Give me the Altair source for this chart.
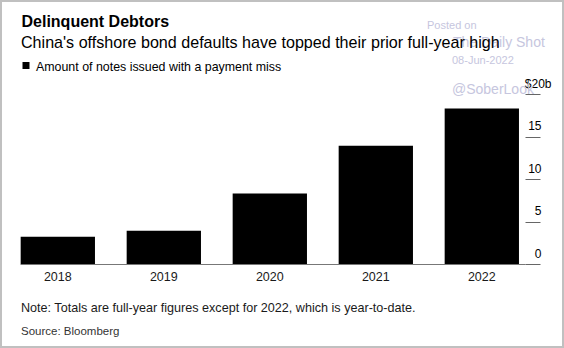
import altair as alt
import pandas as pd

years = ["2018", "2019", "2020", "2021", "2022"]
amounts = [3.2, 3.9, 8.3, 13.9, 18.3]
y_ticks = [0, 5, 10, 15, 20]
series_name = "Amount of notes issued with a payment miss"
title_text = "Delinquent Debtors"
subtitle_text = "China's offshore bond defaults have topped their prior full-year high"
note_text = "Note: Totals are full-year figures except for 2022, which is year-to-date."
source_text = "Source: Bloomberg"
wm_posted = "Posted on"
wm_name = "The Daily Shot"
wm_date = "08-Jun-2022"
wm_handle = "@SoberLook"

FONT = "Liberation Sans"

df = pd.DataFrame({"year": years, "amount": amounts})

bars = alt.Chart(df).mark_bar(color="#000000").encode(
    x=alt.X(
        "year:N",
        scale=alt.Scale(paddingInner=0.299, paddingOuter=0.0316, align=0.1),
        axis=alt.Axis(
            title=None, labelAngle=0, ticks=False, tickSize=0, labelPadding=6,
            labelFontSize=12.5, labelColor="#1a1a1a", labelFont=FONT,
            domainColor="#777777", domainWidth=1,
        ),
    ),
    y=alt.Y(
        "amount:Q",
        scale=alt.Scale(domain=[0, 20], nice=False, zero=True),
        axis=alt.Axis(
            title=None, orient="right", values=y_ticks, grid=False, domain=False,
            tickSize=15, tickColor="#666666", tickWidth=1,
            labelAlign="right", labelBaseline="alphabetic", labelOffset=-7,
            labelPadding={"condition": {"test": "datum.value == 20", "value": 11}, "value": 1},
            labelExpr="datum.value == 20 ? '$20b' : datum.label",
            labelFontSize=12, labelColor="#000000", labelFont=FONT,
        ),
    ),
)


def txt(text, x, y, size, color="#000000", weight="normal", baseline="alphabetic"):
    return alt.Chart(pd.DataFrame({"t": [text]})).mark_text(
        align="left", baseline=baseline, fontSize=size, fontWeight=weight,
        color=color, font=FONT,
    ).encode(x=alt.value(x), y=alt.value(y), text="t:N")


WM = "#c6c6de"
watermark = [
    txt(wm_posted, 407, -68, 11, WM, baseline="middle"),
    txt(wm_name, 433, -51.3, 14, WM, baseline="middle"),
    txt(wm_date, 432, -33.3, 11, WM, baseline="middle"),
    txt(wm_handle, 432, -4, 14, WM, baseline="middle"),
]

title = txt(title_text, 1.5, -67.3, 16, "#000000", weight="bold")
subtitle = txt(subtitle_text, 1, -45.7, 16.1, "#000000")
legend_label = txt(series_name, 16, -23.3, 12.4, "#000000")
legend_sq = alt.Chart(pd.DataFrame({"t": [series_name]})).mark_square(
    size=49, color="#000000", opacity=1
).encode(x=alt.value(6), y=alt.value(-28.5))
note = txt(note_text, 1, 218.3, 12.6, "#1a1a1a")
source = txt(source_text, 1, 241, 11.5, "#333333")

border = alt.Chart(pd.DataFrame({"a": [0]})).mark_rect(
    fillOpacity=0, stroke="#c0c0c0", strokeWidth=2
).encode(x=alt.value(-19), x2=alt.value(543), y=alt.value(-93), y2=alt.value(253))

chart = alt.layer(
    *watermark, bars, title, subtitle, legend_sq, legend_label, note, source, border
).properties(
    width=505,
    height=170,
    autosize=alt.AutoSizeParams(type="none"),
    padding={"left": 20, "top": 94, "right": 39, "bottom": 84},
    background="#ffffff",
).configure_view(stroke=None)

chart.save("out.html", embed_options={"renderer": "svg", "actions": False})
